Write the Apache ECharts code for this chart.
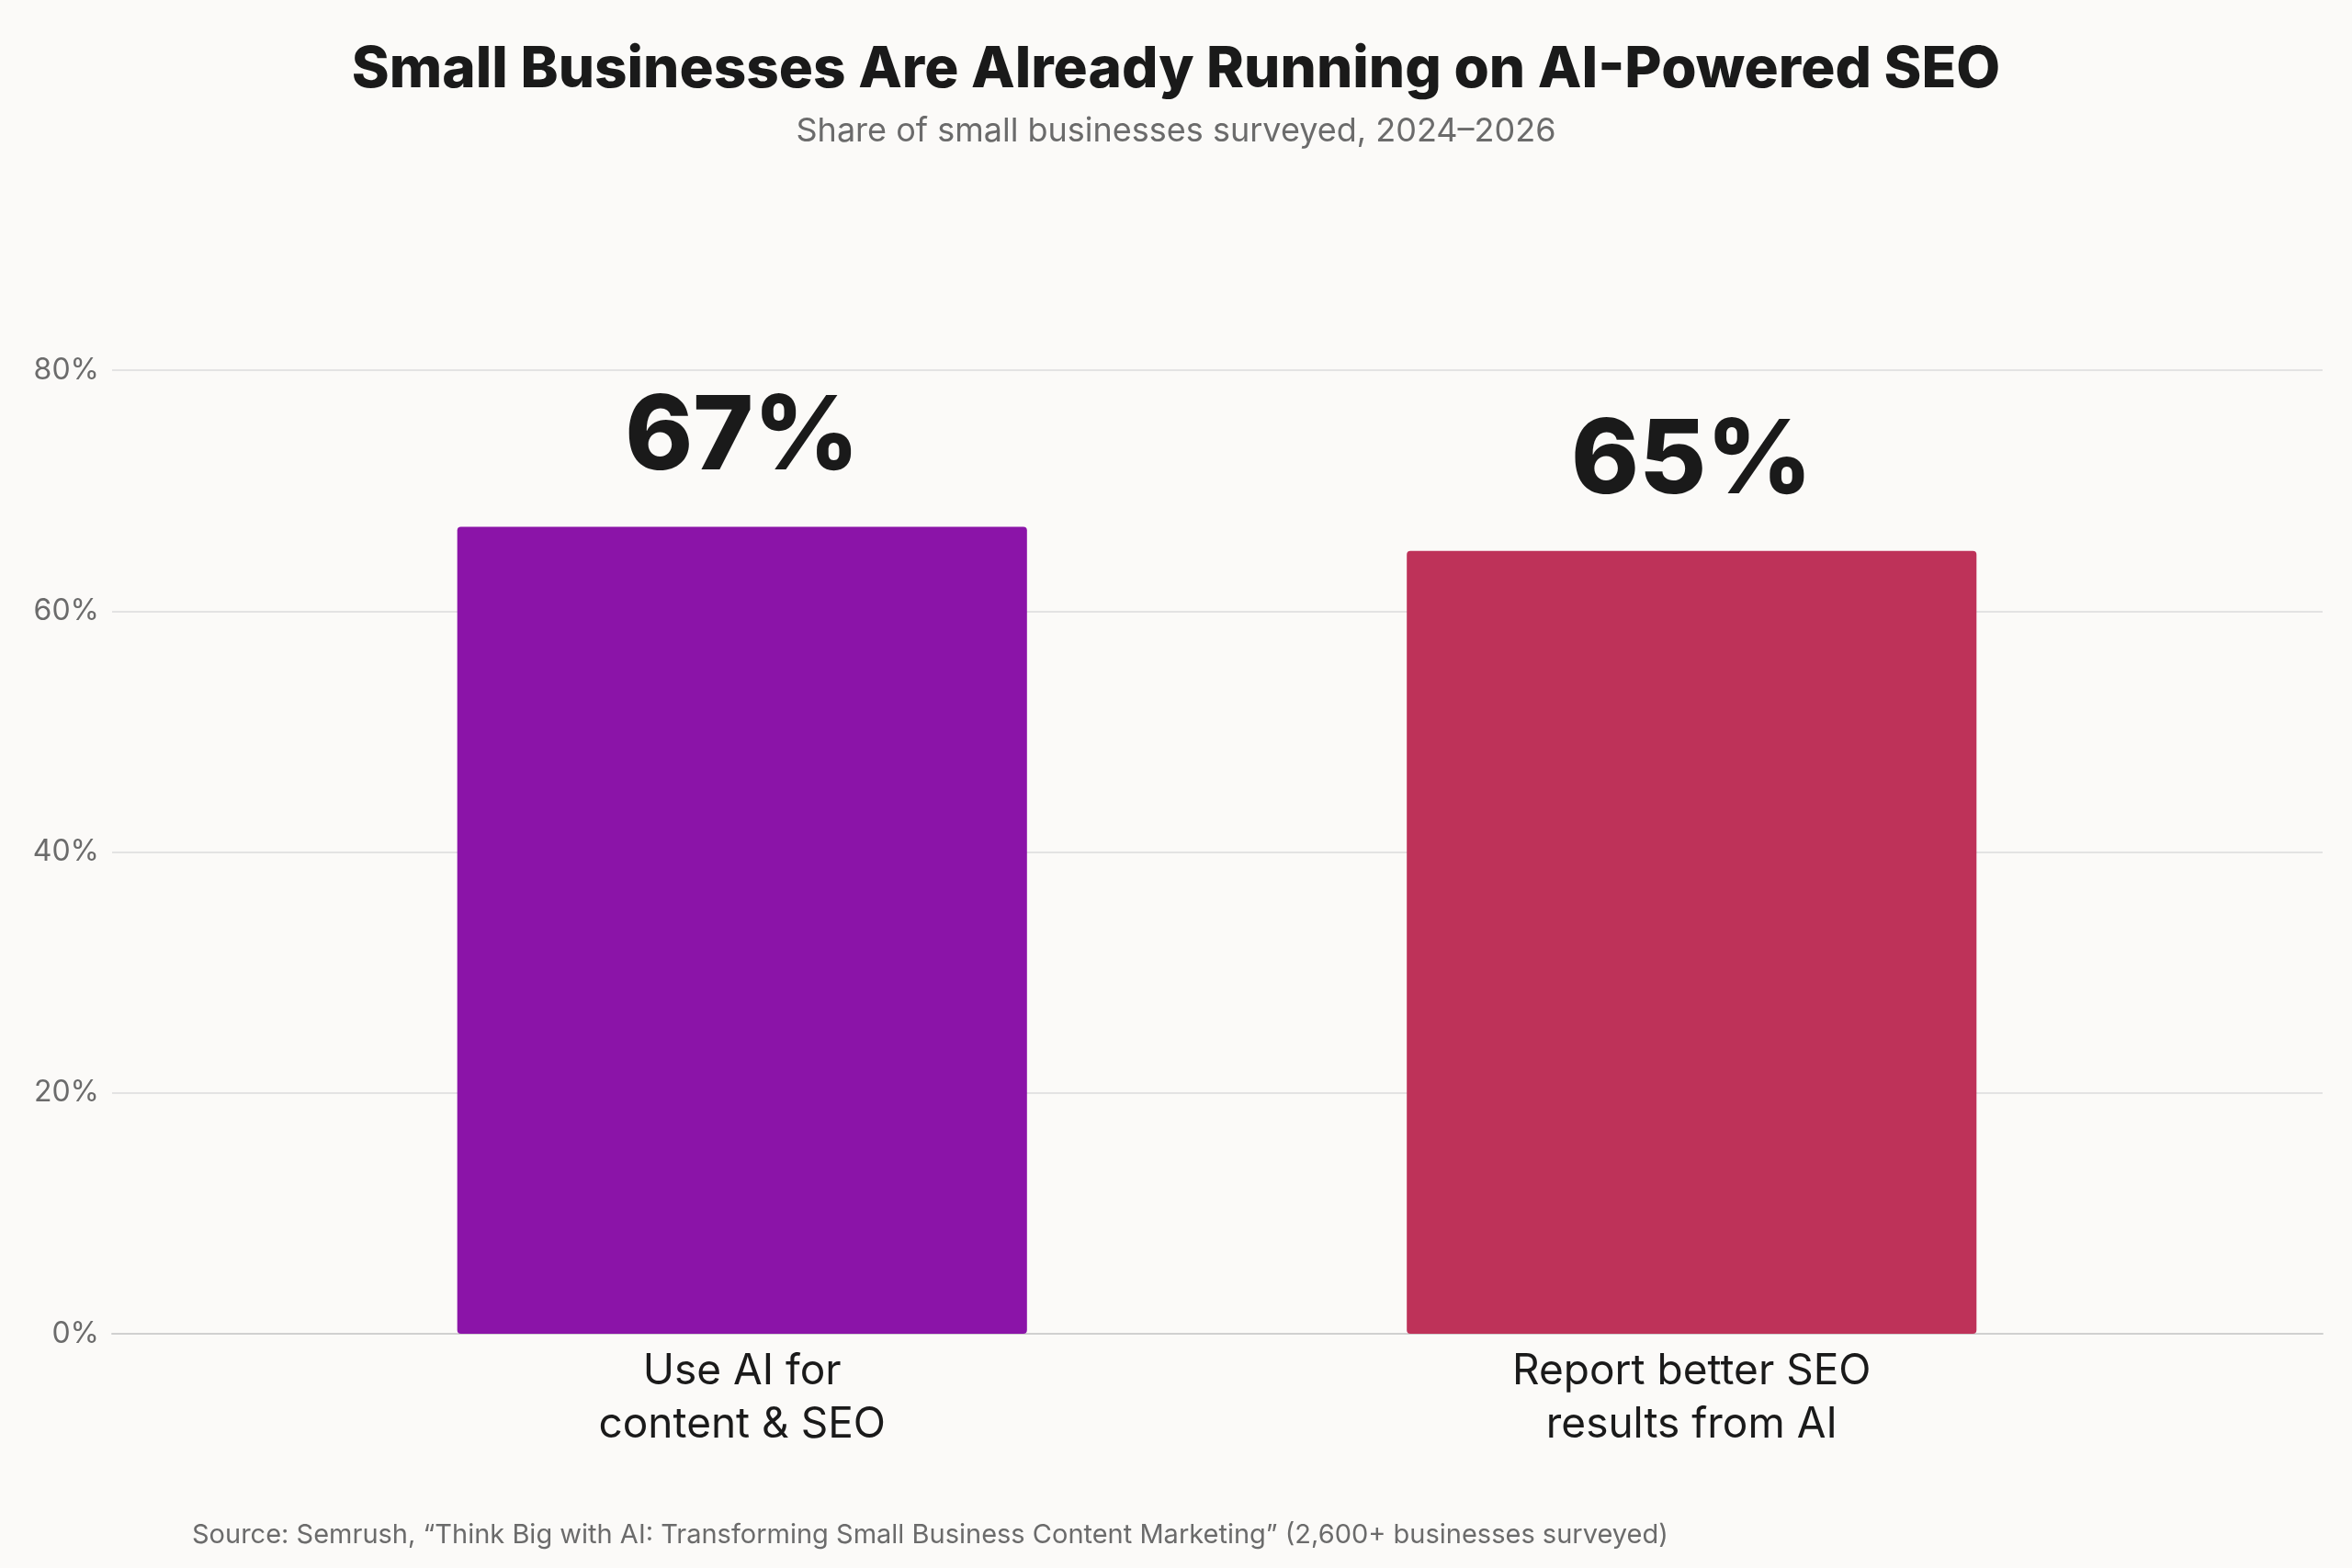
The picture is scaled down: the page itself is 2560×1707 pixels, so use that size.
<!DOCTYPE html>
<html>
<head>
<meta charset="utf-8">
<script src="https://cdn.jsdelivr.net/npm/echarts@6/dist/echarts.min.js"></script>
<style>html,body{margin:0;padding:0;background:#fbfaf8;}#chart{width:2560px;height:1707px;}</style>
</head>
<body>
<div id="chart"></div>
<script>
const categories = ['Use AI for\ncontent & SEO', 'Report better SEO\nresults from AI'];
const values = [67, 65];
const barColors = ['#8b14a8', '#be3259'];
const yTicks = [0, 20, 40, 60, 80];

const chart = echarts.init(document.getElementById('chart'));
const font = 'Inter, "Open Sans", sans-serif';

chart.setOption({
  backgroundColor: '#fbfaf8',
  textStyle: { fontFamily: font },
  title: [{
    text: 'Small Businesses Are Already Running on AI-Powered SEO',
    subtext: 'Share of small businesses surveyed, 2024\u20132026',
    left: 'center',
    top: 40,
    itemGap: 18,
    textStyle: { fontSize: 62, fontWeight: 800, color: '#1a1a1a', fontFamily: font },
    subtextStyle: { fontSize: 36, color: '#6b6b6b', fontFamily: font }
  }, {
    text: 'Source: Semrush, \u201cThink Big with AI: Transforming Small Business Content Marketing\u201d (2,600+ businesses surveyed)',
    left: 204,
    top: 1652,
    textStyle: { fontSize: 29, fontWeight: 400, color: '#6b6b6b', fontFamily: font }
  }],
  grid: [
    { left: 122, right: 32, top: 403, bottom: 255 },
    { left: 291, right: 202, top: 403, bottom: 255 }
  ],
  xAxis: [{
    gridIndex: 0, type: 'category', data: ['a'],
    axisLine: { lineStyle: { color: '#d0d0d0', width: 2 } },
    axisTick: { show: false }, axisLabel: { show: false }
  }, {
    gridIndex: 1, type: 'category', data: categories,
    axisLine: { show: false }, axisTick: { show: false },
    axisLabel: { fontSize: 46, color: '#1a1a1a', lineHeight: 58, margin: 12, fontFamily: font }
  }],
  yAxis: [{
    gridIndex: 0, type: 'value', min: yTicks[0], max: yTicks[yTicks.length - 1], interval: 20,
    axisLabel: { formatter: '{value}%', fontSize: 32, color: '#6b6b6b', margin: 14, fontFamily: font },
    splitLine: { lineStyle: { color: '#e3e3e3', width: 2 } },
    axisLine: { show: false }, axisTick: { show: false }
  }, {
    gridIndex: 1, type: 'value', min: 0, max: 80, show: false, splitLine: { show: false }
  }],
  series: [{
    type: 'bar',
    xAxisIndex: 1, yAxisIndex: 1,
    barWidth: '60%',
    data: values.map(function (v, i) {
      return { value: v, itemStyle: { color: barColors[i], borderRadius: [4, 4, 4, 4] } };
    }),
    label: {
      show: true, position: 'top', distance: 40,
      formatter: '{c}%', fontSize: 112, fontWeight: 800, color: '#1a1a1a', fontFamily: font
    }
  }]
});
</script>
</body>
</html>
